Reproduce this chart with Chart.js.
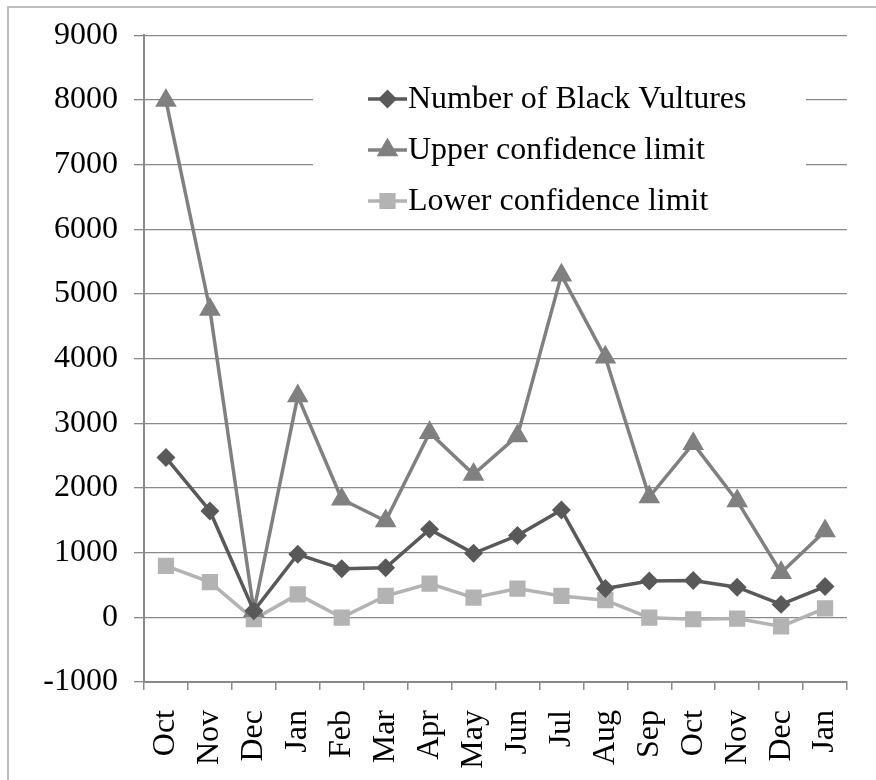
<!DOCTYPE html>
<html lang="en">
<head>
    <meta charset="UTF-8">
    <title>Black Vultures</title>
    <script src="https://cdn.jsdelivr.net/npm/chart.js"></script>
    <style>
        body {
            margin: 0;
            background: #fff;
            overflow: hidden;
        }
        .wrap {
            position: relative;
            width: 876px;
            height: 780px;
            overflow: hidden;
        }
        .frame {
            position: absolute;
            left: 7px;
            top: 6px;
            width: 900px;
            height: 800px;
            border: 2px solid #bfbfbf;
        }
        canvas {
            position: absolute;
            left: 0;
            top: 0;
        }
    </style>
</head>
<body>
    <div class="wrap">
        <div class="frame"></div>
        <canvas id="chart" width="876" height="780"></canvas>
    </div>

    <script>
        const months = ['Oct', 'Nov', 'Dec', 'Jan', 'Feb', 'Mar', 'Apr', 'May',
                        'Jun', 'Jul', 'Aug', 'Sep', 'Oct', 'Nov', 'Dec', 'Jan'];
        const vultures = [2470, 1645, 100, 975, 750, 765, 1360, 990,
                          1265, 1660, 445, 560, 570, 465, 200, 475];
        const upperLimit = [7990, 4760, 100, 3420, 1825, 1490, 2855, 2210,
                            2805, 5290, 4020, 1860, 2685, 1800, 690, 1335];
        const lowerLimit = [795, 545, -30, 355, -5, 330, 520, 305,
                            445, 330, 265, -5, -30, -20, -140, 140];
        const yMin = -1000, yMax = 9000, yStep = 1000;

        const serif = '"Liberation Serif", "Times New Roman", serif';
        const axisGray = '#898989';

        // legend drawn inside the plot, over the gridlines
        const insideLegend = {
            id: 'insideLegend',
            afterDatasetsDraw(chart) {
                const ctx = chart.ctx;
                ctx.save();
                ctx.fillStyle = '#fff';
                ctx.fillRect(313, 76, 493, 146);
                chart.data.datasets.forEach((ds, i) => {
                    const y = 99 + i * 51;
                    ctx.strokeStyle = ds.borderColor;
                    ctx.lineWidth = 3.5;
                    ctx.beginPath();
                    ctx.moveTo(368, y);
                    ctx.lineTo(407, y);
                    ctx.stroke();
                    ctx.fillStyle = ds.borderColor;
                    Chart.helpers.drawPoint(ctx, {
                        pointStyle: ds.pointStyle,
                        radius: ds.pointRadius,
                        borderWidth: 1
                    }, 387.5, y);
                    ctx.fill();
                    ctx.fillStyle = '#000';
                    ctx.font = '32px ' + serif;
                    ctx.textBaseline = 'middle';
                    ctx.textAlign = 'left';
                    ctx.fillText(ds.label, 408, y + 1);
                });
                ctx.restore();
            }
        };

        new Chart(document.getElementById('chart'), {
            type: 'line',
            data: {
                labels: months,
                datasets: [{
                    label: 'Number of Black Vultures',
                    data: vultures,
                    borderColor: '#595959',
                    backgroundColor: '#595959',
                    pointStyle: 'rectRot',
                    pointRadius: 7,
                    borderWidth: 3.5
                }, {
                    label: 'Upper confidence limit',
                    data: upperLimit,
                    borderColor: '#808080',
                    backgroundColor: '#808080',
                    pointStyle: 'triangle',
                    pointRadius: 9,
                    borderWidth: 3.5
                }, {
                    label: 'Lower confidence limit',
                    data: lowerLimit,
                    borderColor: '#b3b3b3',
                    backgroundColor: '#b3b3b3',
                    pointStyle: 'rect',
                    pointRadius: 9,
                    borderWidth: 3.5
                }]
            },
            options: {
                responsive: false,
                animation: false,
                layout: {
                    padding: { top: 34, right: 29, bottom: 0, left: 0 }
                },
                plugins: {
                    legend: { display: false },
                    tooltip: { enabled: false }
                },
                elements: {
                    line: { tension: 0 },
                    point: { borderWidth: 1 }
                },
                scales: {
                    x: {
                        offset: true,
                        afterFit(scale) {
                            scale.height = 98;
                            scale.paddingLeft = 0;
                            scale.paddingRight = 0;
                        },
                        grid: {
                            offset: true,
                            drawOnChartArea: false,
                            color: axisGray,
                            lineWidth: 1.5,
                            tickLength: 8
                        },
                        border: { color: axisGray, width: 2 },
                        ticks: {
                            color: '#000',
                            font: { family: serif, size: 32 },
                            minRotation: 90,
                            maxRotation: 90,
                            autoSkip: false,
                            padding: 20
                        }
                    },
                    y: {
                        min: yMin,
                        max: yMax,
                        afterFit(scale) { scale.width = 144; },
                        grid: {
                            color: axisGray,
                            lineWidth: 1.3,
                            tickLength: 10
                        },
                        border: { color: axisGray, width: 2 },
                        ticks: {
                            stepSize: yStep,
                            color: '#000',
                            font: { family: serif, size: 32 },
                            padding: 16,
                            callback: (v) => String(v)
                        }
                    }
                }
            },
            plugins: [insideLegend]
        });
    </script>
</body>
</html>
